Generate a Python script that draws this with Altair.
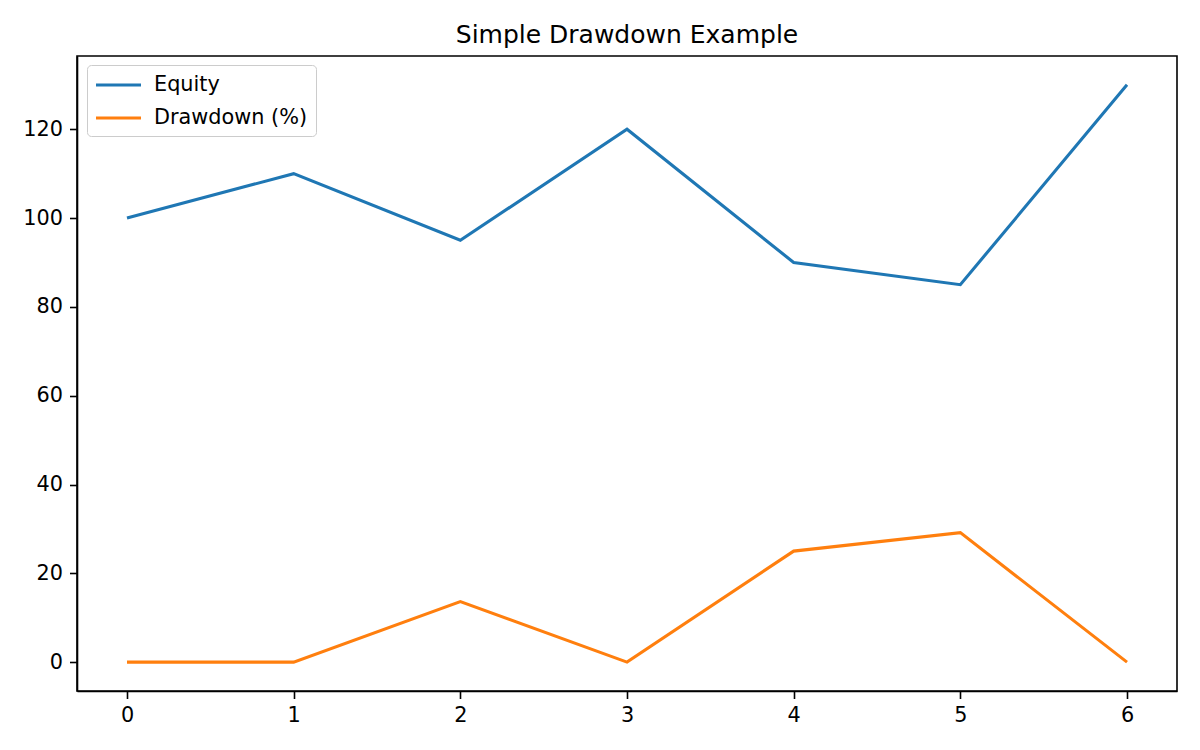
import altair as alt
import pandas as pd

x_vals = [0, 1, 2, 3, 4, 5, 6]
equity = [100, 110, 95, 120, 90, 85, 130]
drawdown = [0, 0, 13.636, 0, 25, 29.167, 0]
series_names = ["Equity", "Drawdown (%)"]
colors = ["#1f77b4", "#ff7f0e"]

rows = []
for xv, e in zip(x_vals, equity):
    rows.append({"x": xv, "value": e, "series": series_names[0]})
for xv, d in zip(x_vals, drawdown):
    rows.append({"x": xv, "value": d, "series": series_names[1]})
df = pd.DataFrame(rows)

FONT = "DejaVu Sans"

chart = alt.Chart(df).mark_line(strokeWidth=3.1).encode(
    x=alt.X("x:Q",
            scale=alt.Scale(domain=[-0.3, 6.3], nice=False, zero=False),
            axis=alt.Axis(values=x_vals, format="d", title=None)),
    y=alt.Y("value:Q",
            scale=alt.Scale(domain=[-6.5, 136.5], nice=False, zero=False),
            axis=alt.Axis(values=[0, 20, 40, 60, 80, 100, 120], format="d", title=None)),
    color=alt.Color("series:N",
                    scale=alt.Scale(domain=series_names, range=colors),
                    sort=series_names,
                    legend=alt.Legend(
                        title=None, orient="none", legendX=10, legendY=9,
                        symbolType="M-1.1,0H3.4", symbolSize=400, symbolStrokeWidth=3.1,
                        symbolFillColor="transparent",
                        labelFont=FONT, labelFontSize=20.8, labelColor="black",
                        labelOffset=35, rowPadding=11, padding=8,
                        strokeColor="#cccccc", fillColor="white", cornerRadius=4,
                    )),
    detail="series:N",
).properties(
    width=1100,
    height=635,
    title=alt.TitleParams("Simple Drawdown Example", font=FONT, fontSize=25,
                          fontWeight="normal", color="black", offset=8),
    autosize=alt.AutoSizeParams(type="none"),
    padding={"left": 69, "top": 48, "right": 15, "bottom": 51},
).configure_view(
    stroke="black", strokeWidth=1.6
).configure_axis(
    grid=False, domainColor="black", domainWidth=1.6,
    tickColor="black", tickWidth=1.6, tickSize=7.5,
    labelFont=FONT, labelFontSize=20.8, labelColor="black", labelPadding=7,
)

chart.save("out.html", embed_options={"renderer": "svg", "actions": False})
